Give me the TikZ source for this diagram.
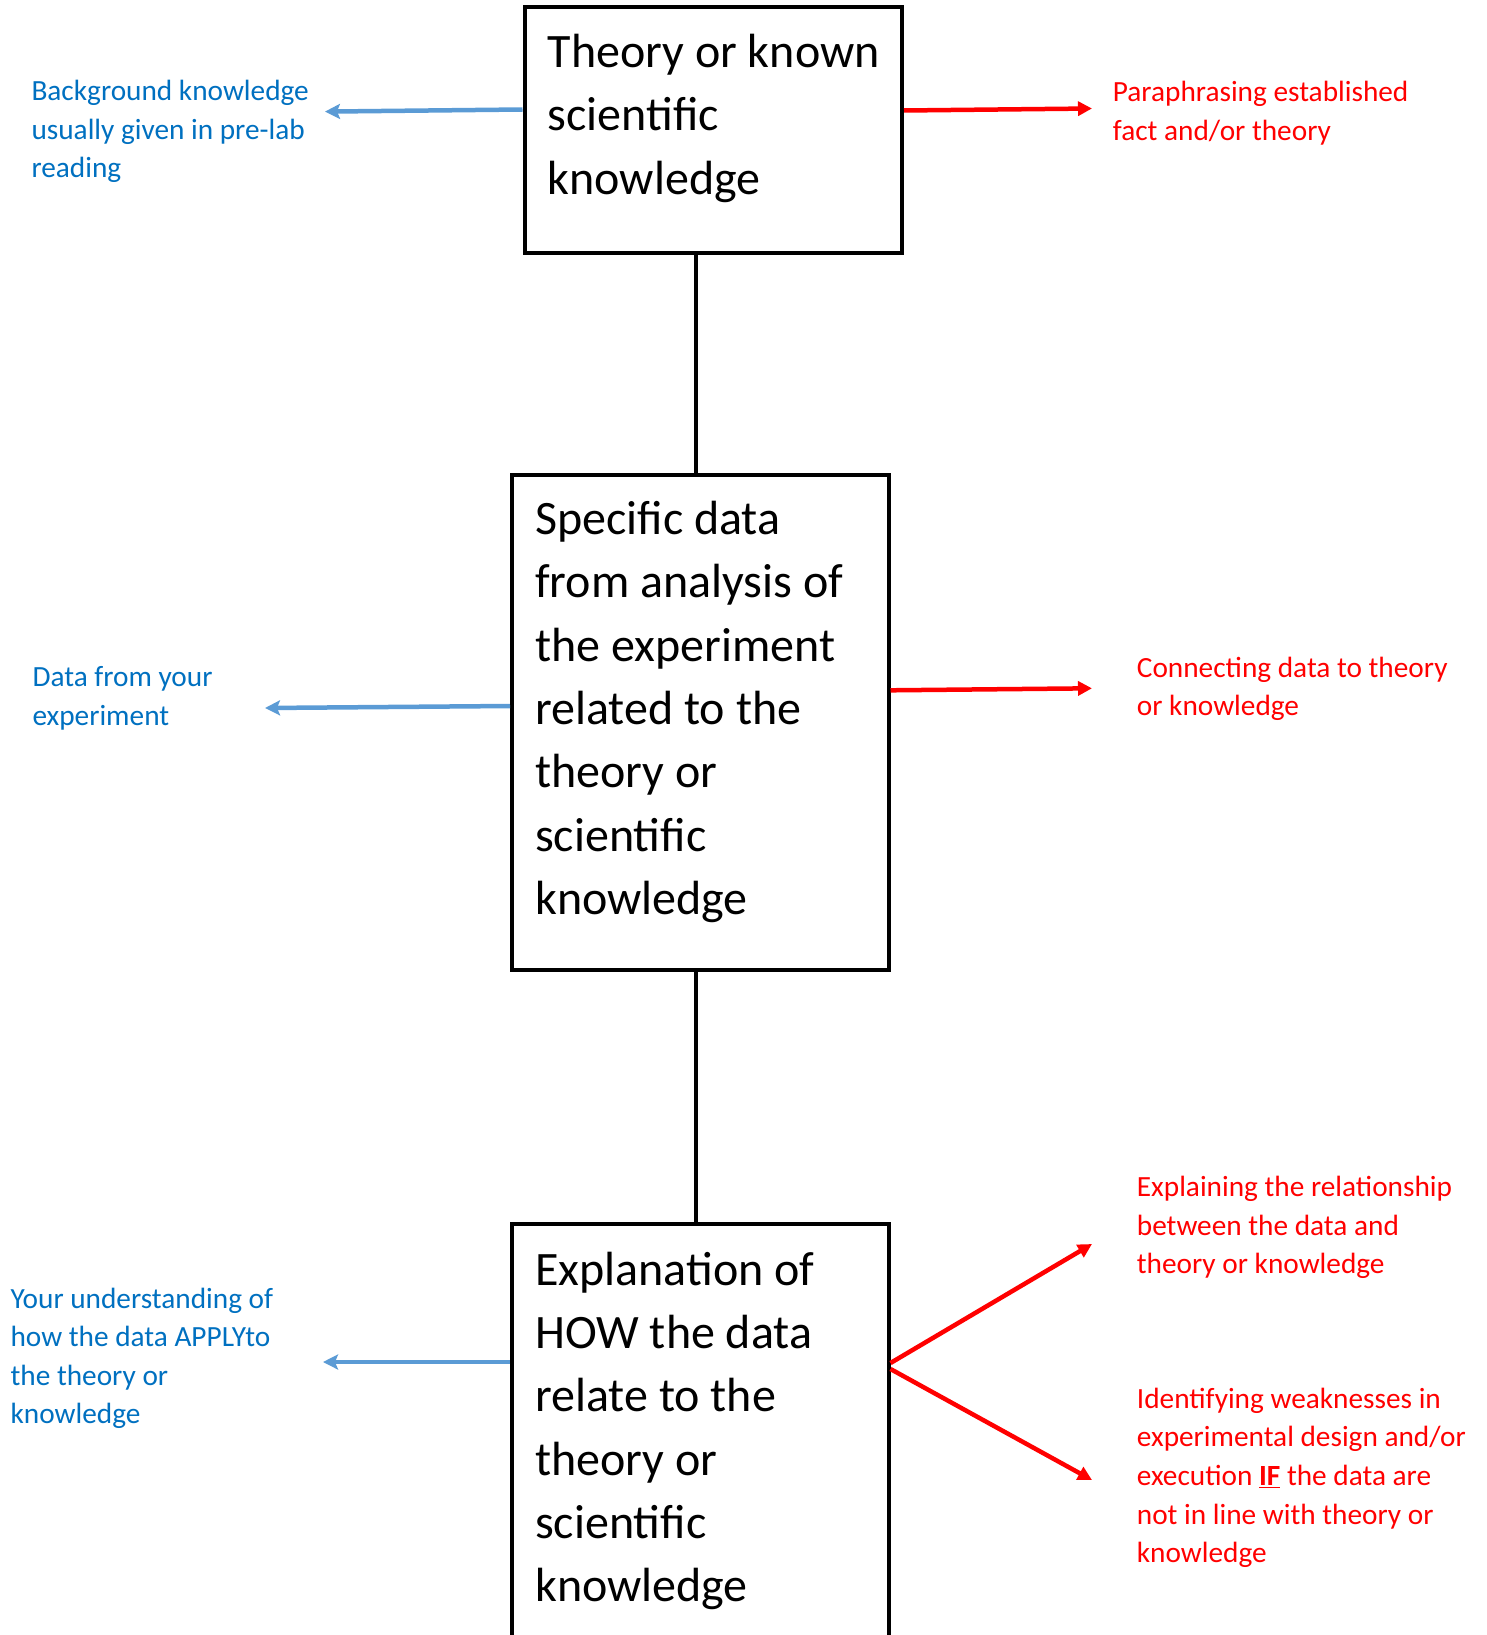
\documentclass[tikz,border=0pt]{standalone}
\usepackage{fontspec}
\setmainfont{Carlito}
\usetikzlibrary{arrows.meta}
\definecolor{bline}{HTML}{5B9BD5}
\definecolor{btext}{HTML}{0070C0}
\definecolor{rline}{HTML}{FF0000}
\newcommand\mylines[1]{\begin{tabular}[t]{@{}l@{}}#1\end{tabular}}
\begin{document}
\begin{tikzpicture}[x=1pt,y=-1pt,
  boxnode/.style={draw=black,line width=4pt,rectangle,inner sep=0pt},
  bigtext/.style={anchor=base west,inner sep=0pt,yshift=-2.5pt,font=\fontsize{48}{63.3}\selectfont},
  bluetext/.style={anchor=base west,inner sep=0pt,yshift=-2.5pt,text=btext,font=\fontsize{29.3}{38.6}\selectfont},
  redtext/.style={anchor=base west,inner sep=0pt,yshift=-2.5pt,text=rline,font=\fontsize{29.3}{38.6}\selectfont},
  vline/.style={draw=black,line width=4pt},
  bluearrow/.style={draw=bline,line width=4.5pt,-{Stealth[length=15pt,width=15pt,inset=3pt]}},
  redarrow/.style={draw=rline,line width=4.5pt,-{Triangle[length=14pt,width=14pt]}}]
\useasboundingbox (0,0) rectangle (1486,1635);
% boxes
\node[boxnode,minimum width=377.5pt,minimum height=246.1pt] (box1) at (713.25,130.35) {};
\node[boxnode,minimum width=376.5pt,minimum height=495.5pt] (box2) at (700.25,722.25) {};
\node[boxnode,minimum width=376.5pt,minimum height=476pt] (box3) at (700.25,1462) {};
% box texts
\node[bigtext] (t1) at (547.5,65) {\mylines{Theory or known\\scientific\\knowledge}};
\node[bigtext] (t2) at (535,532) {\mylines{Specific data\\from analysis of\\the experiment\\related to the\\theory or\\scientific\\knowledge}};
\node[bigtext] (t3) at (535,1282.6) {\mylines{Explanation of\\HOW the data\\relate to the\\theory or\\scientific\\knowledge}};
% vertical connectors
\coordinate (vx) at (695.6,0);
\draw[vline] (box1.south -| vx) -- (box2.north -| vx);
\draw[vline] (box2.south -| vx) -- (box3.north -| vx);
% arrow free ends
\coordinate (e1b) at (325,111.6);
\coordinate (e1r) at (1092,108.5);
\coordinate (e2b) at (265,708);
\coordinate (e2r) at (1092,688.3);
\coordinate (e3b) at (323,1362);
\coordinate (e3r) at (1092,1244);
\coordinate (e3s) at (1092,1480);
% arrows
\draw[bluearrow] ([yshift=20.85pt]box1.west) -- (e1b);
\draw[redarrow] ([yshift=19.85pt]box1.east) -- (e1r);
\draw[bluearrow] ([yshift=16.25pt]box2.west) -- (e2b);
\draw[redarrow] ([yshift=31.95pt]box2.east) -- (e2r);
\draw[bluearrow] ([yshift=100pt]box3.west) -- (e3b);
\draw[redarrow] ([yshift=99pt]box3.east) -- (e3r);
\draw[redarrow] ([yshift=93pt]box3.east) -- (e3s);
% side labels
\node[bluetext] (l1) at (31.3,98) {\mylines{Background knowledge\\usually given in pre-lab\\reading}};
\node[redtext] (r1) at (1112.7,99) {\mylines{Paraphrasing established\\fact and/or theory}};
\node[bluetext] (l2) at (32.3,684) {\mylines{Data from your\\experiment}};
\node[redtext] (r2) at (1136.7,674.7) {\mylines{Connecting data to theory\\or knowledge}};
\node[bluetext] (l3) at (10.4,1305.6) {\mylines{Your understanding of\\how the data APPLYto\\the theory or\\knowledge}};
\node[redtext] (r3) at (1136.7,1194) {\mylines{Explaining the relationship\\between the data and\\theory or knowledge}};
\node[redtext] (r4) at (1136.7,1405.7) {\mylines{Identifying weaknesses in\\experimental design and/or\\execution \underline{\textbf{IF}} the data are\\not in line with theory or\\knowledge}};
\end{tikzpicture}
\end{document}
